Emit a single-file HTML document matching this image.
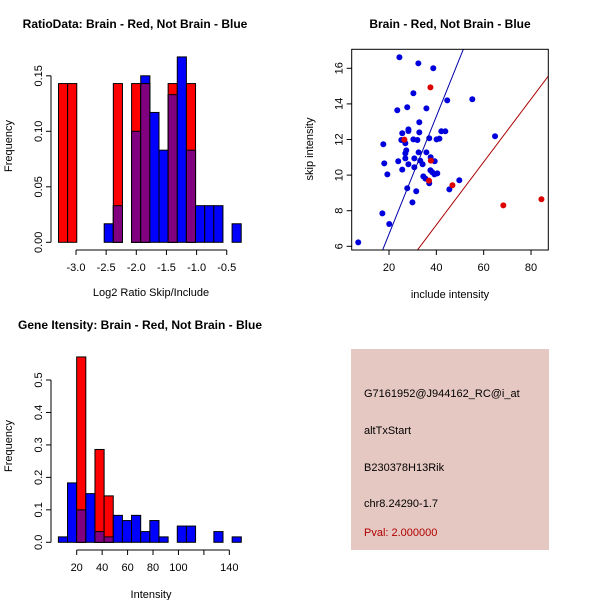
<!DOCTYPE html>
<html><head><meta charset="utf-8"><style>
body{margin:0;background:#fff}
svg{display:block;font-family:"Liberation Sans",sans-serif}
</style></head><body>
<svg id="s" width="600" height="600" xmlns="http://www.w3.org/2000/svg">
<rect width="600" height="600" fill="#fff"/>
<text x="135" y="28" font-size="12" font-weight="bold" text-anchor="middle">RatioData: Brain - Red, Not Brain - Blue</text>
<text x="151" y="296" font-size="11" text-anchor="middle">Log2 Ratio Skip/Include</text>
<text transform="translate(12,146) rotate(-90)" font-size="11" text-anchor="middle">Frequency</text>
<text x="450" y="28" font-size="12" font-weight="bold" text-anchor="middle">Brain - Red, Not Brain - Blue</text>
<text x="450" y="298" font-size="11" text-anchor="middle">include intensity</text>
<text transform="translate(313,149) rotate(-90)" font-size="11" text-anchor="middle">skip intensity</text>
<text x="140" y="329" font-size="12" font-weight="bold" text-anchor="middle">Gene Itensity: Brain - Red, Not Brain - Blue</text>
<text x="151" y="598" font-size="11" text-anchor="middle">Intensity</text>
<text transform="translate(12,446) rotate(-90)" font-size="11" text-anchor="middle">Frequency</text>
<g>
<rect x="351" y="349" width="198" height="201" fill="#e6c8c2"/>
<text x="364" y="397" font-size="11">G7161952@J944162_RC@i_at</text>
<text x="364" y="434" font-size="11">altTxStart</text>
<text x="364" y="471" font-size="11">B230378H13Rik</text>
<text x="364" y="507" font-size="11">chr8.24290-1.7</text>
<text x="364" y="536" font-size="11" fill="#b00000">Pval: 2.000000</text>
</g>
</svg>
<script>
// Ratio histogram data
const ratioStart = -3.29, ratioWidth = 0.1515;
const ratioRed  = [0.143,0.143,0,0,0,0,0.143,0,0.143,0.143,0,0,0.143,0,0.143,0,0,0,0,0];
const ratioBlue = [0,0,0,0,0,0.0167,0.033,0,0.1,0.15,0.117,0.083,0.133,0.167,0.083,0.033,0.033,0.033,0,0.0167];
const ratioXTicks = [-3.0,-2.5,-2.0,-1.5,-1.0,-0.5];
const ratioXLabels = ["-3.0","-2.5","-2.0","-1.5","-1.0","-0.5"];
const ratioYTicks = [0,0.05,0.10,0.15];
const ratioYLabels = ["0.00","0.05","0.10","0.15"];
// Intensity histogram data
const intStart = 5.6, intWidth = 7.19;
const intRed  = [0,0,0.571,0,0.286,0.143,0,0,0,0,0,0,0,0,0,0,0,0,0,0];
const intBlue = [0.0167,0.183,0.1,0.15,0.033,0.0167,0.083,0.067,0.083,0.033,0.067,0.0167,0,0.05,0.05,0,0,0.033,0,0.0167];
const intXTicks = [20,40,60,80,100,120,140];
const intXLabels = ["20","40","60","80","100","","140"];
const intYTicks = [0,0.1,0.2,0.3,0.4,0.5];
const intYLabels = ["0.0","0.1","0.2","0.3","0.4","0.5"];
// Scatter data
const blueInclude = [24.4,32.4,38.7,30.3,44.6,55.2,23.5,27.7,35.8,32.8,28.2,28.2,32.8,25.6,42.1,43.8,64.8,37.0,41.3,40.1,25.2,30.3,32.0,26.9,17.6,27.3,26.9,32.5,35.8,23.9,26.9,30.7,33.2,34.2,28.2,37.6,39.3,18.0,30.7,25.6,37.5,38.3,39.2,40.4,19.3,34.5,35.4,37.0,49.7,45.5,27.7,31.5,29.9,17.2,20.1,7.0];
const blueSkip    = [16.62,16.28,16.0,14.6,14.2,14.26,13.64,13.81,13.75,12.97,12.57,12.48,12.4,12.35,12.46,12.46,12.18,12.07,12.05,12.01,11.97,12.01,11.97,11.79,11.73,11.39,11.22,11.28,11.28,10.78,10.94,10.94,10.81,10.61,10.61,11.0,10.78,10.66,10.44,10.31,10.27,10.16,10.04,10.1,10.04,9.93,9.8,9.54,9.71,9.2,9.26,9.09,8.47,7.85,7.25,6.22];
const redInclude = [37.5,26.5,37.7,36.9,46.8,68.3,84.4];
const redSkip    = [14.93,11.99,10.81,9.69,9.43,8.3,8.64];
const blueSlope = 0.3308, blueIntercept = 0.067;
const redSlope = 0.1768, redIntercept = 0.13;
const scXTicks = [20,40,60,80];
const scYTicks = [6,8,10,12,14,16];

const svg = document.getElementById('s');
const NS = 'http://www.w3.org/2000/svg';
function mk(tag, attrs, parent){
  const e = document.createElementNS(NS, tag);
  for (const k in attrs) e.setAttribute(k, attrs[k]);
  (parent||svg).appendChild(e);
  return e;
}

function hist(name, start, width, red, blue, xmap, ymap, xTicks, xLabels, yTicks, yLabels, axisX, axisY){
  const g = mk('g', {});
  
  
  for (let i = 0; i < red.length; i++){
    const x0 = xmap(start + i*width), x1 = xmap(start + (i+1)*width);
    const b = blue[i], r = red[i];
    if (b > 0){
      const rc = mk('rect', {x:x0, y:ymap(b), width:x1-x0, height:ymap(0)-ymap(b), fill:'#0000ff', stroke:'#000', 'stroke-width':1}, g);
      
      
    }
    if (r > 0){
      const rc = mk('rect', {x:x0, y:ymap(r), width:x1-x0, height:ymap(0)-ymap(r), fill:'#ff0000', stroke:'#000', 'stroke-width':1}, g);
      
      
    }
    if (r > 0 && b > 0){
      const m = Math.min(r, b);
      const rc = mk('rect', {x:x0, y:ymap(m), width:x1-x0, height:ymap(0)-ymap(m), fill:'#800080', stroke:'#000', 'stroke-width':1}, g);
      
      
    }
  }
  // y axis
  mk('line', {x1:axisX, x2:axisX, y1:ymap(yTicks[0]), y2:ymap(yTicks[yTicks.length-1]), stroke:'#000'}, g);
  yTicks.forEach((v,i)=>{
    const y = ymap(v);
    mk('line', {x1:axisX-5, x2:axisX, y1:y, y2:y, stroke:'#000'}, g);
    const t = mk('text', {transform:`translate(${axisX-9},${y}) rotate(-90)`, 'font-size':11, 'text-anchor':'middle'}, g);
    t.textContent = yLabels[i];
    
    
  });
  // x axis
  mk('line', {x1:xmap(xTicks[0]), x2:xmap(xTicks[xTicks.length-1]), y1:axisY, y2:axisY, stroke:'#000'}, g);
  xTicks.forEach((v,i)=>{
    const x = xmap(v);
    mk('line', {x1:x, x2:x, y1:axisY, y2:axisY+5, stroke:'#000'}, g);
    const t = mk('text', {x:x, y:axisY+21, 'font-size':11, 'text-anchor':'middle'}, g);
    t.textContent = xLabels[i];
    
    
  });
}

hist('ratio-histogram', ratioStart, ratioWidth, ratioRed, ratioBlue,
  v => 76 + (v + 3.0) * 60.3, v => 242.3 - v * 1110,
  ratioXTicks, ratioXLabels, ratioYTicks, ratioYLabels, 51, 250);
hist('intensity-histogram', intStart, intWidth, intRed, intBlue,
  v => 76.7 + (v - 20) * 1.272, v => 542.3 - v * 324.6,
  intXTicks, intXLabels, intYTicks, intYLabels, 51, 550);

// scatter
const sx = v => 389 + (v - 20) * 2.367;
const sy = v => 246.3 - (v - 6) * 17.8;
const sg = mk('g', {});


const L = 351.7, R = 548.3, T = 49.3, B = 250;
const defs = mk('defs', {}, sg);
const cp = mk('clipPath', {id:'clip'}, defs);
mk('rect', {x:L, y:T, width:R-L, height:B-T}, cp);
const clipG = mk('g', {'clip-path':'url(#clip)'}, sg);
function regLine(slope, icpt, color, name){
  const x0 = 0, x1 = 100;
  const ln = mk('line', {x1:sx(x0), y1:sy(icpt+slope*x0), x2:sx(x1), y2:sy(icpt+slope*x1), stroke:color, 'stroke-width':1}, clipG);
  
  
}
blueInclude.forEach((v,i)=>{
  const c = mk('circle', {cx:sx(v), cy:sy(blueSkip[i]), r:3, fill:'#0000dd'}, clipG);
  
  
});
redInclude.forEach((v,i)=>{
  const c = mk('circle', {cx:sx(v), cy:sy(redSkip[i]), r:3, fill:'#dd0000'}, clipG);
  
  
});
regLine(blueSlope, blueIntercept, '#0000aa', 'blue-fit-line');
regLine(redSlope, redIntercept, '#aa0000', 'red-fit-line');
const box = mk('rect', {x:L, y:T, width:R-L, height:B-T, fill:'none', stroke:'#000'}, sg);


scXTicks.forEach(v=>{
  const x = sx(v);
  mk('line', {x1:x, x2:x, y1:B, y2:B+5, stroke:'#000'}, sg);
  const t = mk('text', {x:x, y:B+21, 'font-size':11, 'text-anchor':'middle'}, sg);
  t.textContent = String(v);
  
  
});
scYTicks.forEach(v=>{
  const y = sy(v);
  mk('line', {x1:L-5, x2:L, y1:y, y2:y, stroke:'#000'}, sg);
  const t = mk('text', {transform:`translate(${L-9},${y}) rotate(-90)`, 'font-size':11, 'text-anchor':'middle'}, sg);
  t.textContent = String(v);
  
  
});
</script>
</body></html>
